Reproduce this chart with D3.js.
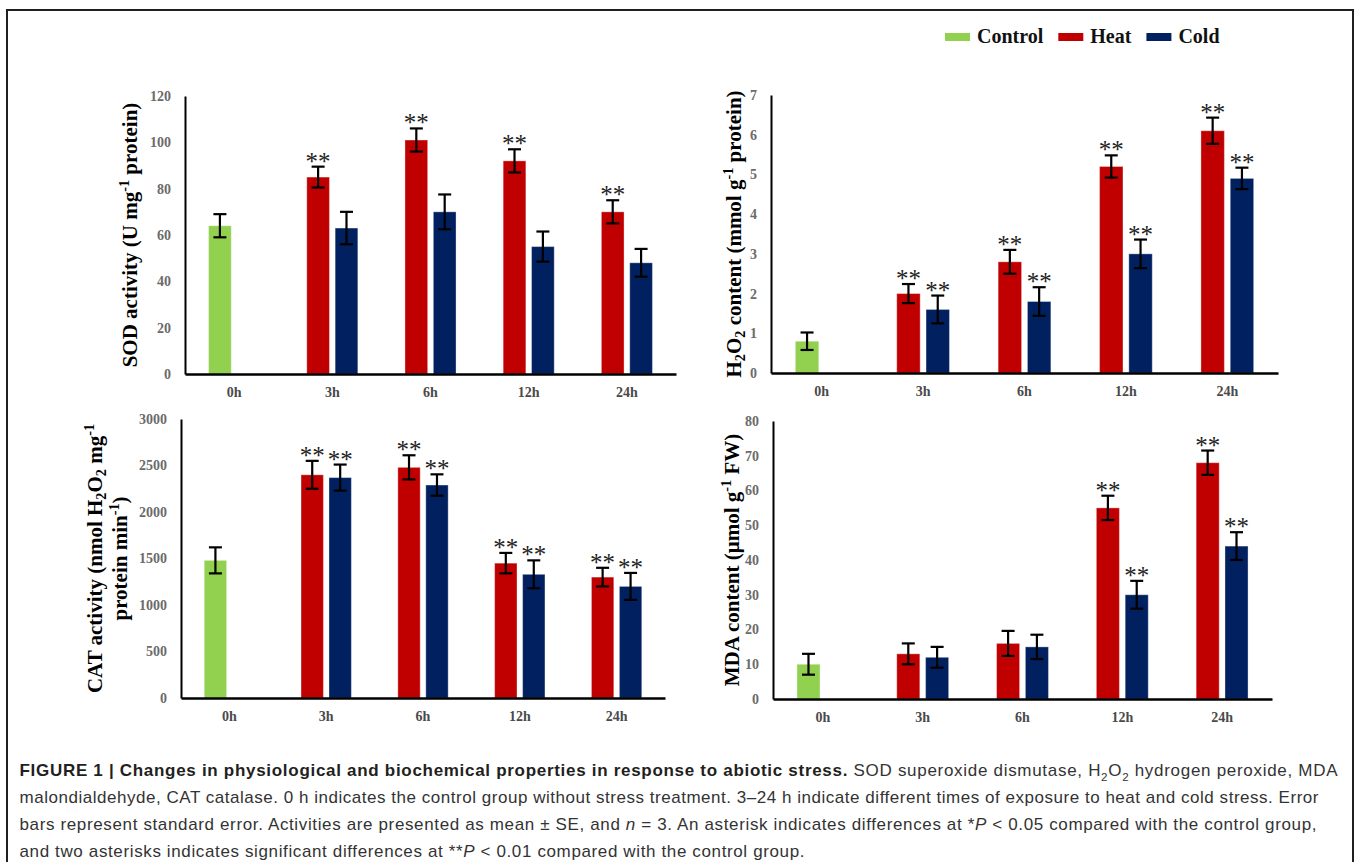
<!DOCTYPE html>
<html>
<head>
<meta charset="utf-8">
<script src="https://cdn.jsdelivr.net/npm/d3@7"></script>
<style>
  body { margin: 0; background: #fff; }
  svg { display: block; }
</style>
</head>
<body>
<div id="chart"></div>
<script>
const times = ["0h", "3h", "6h", "12h", "24h"];
const stressTimes = ["3h", "6h", "12h", "24h"];
const seriesNames = ["Control", "Heat", "Cold"];
const seriesColors = ["#92d050", "#c00000", "#002060"];

// SOD activity (U mg-1 protein)
const sodControl = [64, 5]; // mean, SE at 0h
const sodHeat = [85, 101, 92, 70];
const sodHeatSE = [4.5, 5, 5, 5];
const sodCold = [63, 70, 55, 48];
const sodColdSE = [7, 7.5, 6.5, 6];
const sodHeatSig = ["**", "**", "**", "**"];
const sodColdSig = ["", "", "", ""];
const sodTicks = [0, 20, 40, 60, 80, 100, 120];

// H2O2 content (mmol g-1 protein)
const h2o2Control = [0.8, 0.22];
const h2o2Heat = [2.0, 2.8, 5.2, 6.1];
const h2o2HeatSE = [0.24, 0.3, 0.28, 0.33];
const h2o2Cold = [1.6, 1.8, 3.0, 4.9];
const h2o2ColdSE = [0.35, 0.36, 0.36, 0.27];
const h2o2HeatSig = ["**", "**", "**", "**"];
const h2o2ColdSig = ["**", "**", "**", "**"];
const h2o2Ticks = [0, 1, 2, 3, 4, 5, 6, 7];

// CAT activity (nmol H2O2 mg-1 protein min-1)
const catControl = [1480, 140];
const catHeat = [2400, 2480, 1450, 1300];
const catHeatSE = [150, 130, 110, 100];
const catCold = [2370, 2290, 1330, 1200];
const catColdSE = [140, 115, 150, 145];
const catHeatSig = ["**", "**", "**", "**"];
const catColdSig = ["**", "**", "**", "**"];
const catTicks = [0, 500, 1000, 1500, 2000, 2500, 3000];

// MDA content (umol g-1 FW)
const mdaControl = [10, 3];
const mdaHeat = [13, 16, 55, 68];
const mdaHeatSE = [3, 3.6, 3.5, 3.5];
const mdaCold = [12, 15, 30, 44];
const mdaColdSE = [3, 3.5, 4, 4];
const mdaHeatSig = ["", "", "**", "**"];
const mdaColdSig = ["", "", "**", "**"];
const mdaTicks = [0, 10, 20, 30, 40, 50, 60, 70, 80];

const width = 1357, height = 862;
const serif = "'Liberation Serif', 'Times New Roman', serif";
const sans = "'Liberation Sans', Arial, Helvetica, sans-serif";

const svg = d3.select("#chart")
  .append("svg")
  .attr("width", width)
  .attr("height", height);

// figure frame
svg.append("rect")
  .attr("x", 7).attr("y", 10)
  .attr("width", 1346).attr("height", 880)
  .attr("fill", "none")
  .attr("stroke", "#231f20")
  .attr("stroke-width", 2);

// writes text pieces (bold / italic / sub / sup) into a text element
function richText(sel, parts, size, subShift = 0.28) {
  let shift = 0;
  parts.forEach(([txt, kind]) => {
    const t = sel.append("tspan").text(txt);
    let target = 0;
    if (kind === "sub") { target = size * subShift; t.attr("font-size", size * 0.68); }
    if (kind === "sup") { target = -size * 0.38; t.attr("font-size", size * 0.68); }
    if (kind === "b") t.attr("font-weight", "bold");
    if (kind === "i") t.attr("font-style", "italic");
    if (target !== shift) { t.attr("dy", target - shift); shift = target; }
  });
}

const panels = [
  { left: 185, right: 676, top: 96, bottom: 374, max: 120, ticks: sodTicks,
    control: sodControl, heat: sodHeat, heatSE: sodHeatSE, cold: sodCold, coldSE: sodColdSE,
    heatSig: sodHeatSig, coldSig: sodColdSig,
    titles: [{ x: 137, parts: [["SOD activity (U mg"], ["-1", "sup"], [" protein)"]] }] },
  { left: 771, right: 1278, top: 95, bottom: 373, max: 7, ticks: h2o2Ticks,
    control: h2o2Control, heat: h2o2Heat, heatSE: h2o2HeatSE, cold: h2o2Cold, coldSE: h2o2ColdSE,
    heatSig: h2o2HeatSig, coldSig: h2o2ColdSig,
    titles: [{ x: 741, parts: [["H"], ["2", "sub"], ["O"], ["2", "sub"], [" content (mmol g"], ["-1", "sup"], [" protein)"]] }] },
  { left: 181, right: 665, top: 419, bottom: 698, max: 3000, ticks: catTicks,
    control: catControl, heat: catHeat, heatSE: catHeatSE, cold: catCold, coldSE: catColdSE,
    heatSig: catHeatSig, coldSig: catColdSig,
    titles: [
      { x: 102, parts: [["CAT activity (nmol H"], ["2", "sub"], ["O"], ["2", "sub"], [" mg"], ["-1", "sup"]] },
      { x: 127, parts: [["protein min"], ["-1", "sup"], [")"]] }
    ] },
  { left: 773, right: 1272, top: 421, bottom: 699, max: 80, ticks: mdaTicks,
    control: mdaControl, heat: mdaHeat, heatSE: mdaHeatSE, cold: mdaCold, coldSE: mdaColdSE,
    heatSig: mdaHeatSig, coldSig: mdaColdSig,
    titles: [{ x: 739, parts: [["MDA content (\u03bcmol g"], ["-1", "sup"], [" FW)"]] }] }
];

function drawPanel(p) {
  const x = d3.scaleBand(times, [p.left, p.right]).paddingInner(0.48).paddingOuter(0.24);
  const slot = d3.scaleBand([0, 1], [0, x.bandwidth()]).paddingInner(0.2);
  const y = d3.scaleLinear([0, p.max], [p.bottom, p.top]);

  const bars = [{ t: "0h", s: 0, v: p.control[0], se: p.control[1], c: 0, sig: "" }];
  stressTimes.forEach((t, i) => {
    bars.push({ t, s: 0, v: p.heat[i], se: p.heatSE[i], c: 1, sig: p.heatSig[i] });
    bars.push({ t, s: 1, v: p.cold[i], se: p.coldSE[i], c: 2, sig: p.coldSig[i] });
  });

  const g = svg.append("g");
  const cx = d => x(d.t) + slot(d.s) + slot.bandwidth() / 2;

  g.append("g")
    .selectAll("rect")
    .data(bars)
    .join("rect")
    .attr("x", d => x(d.t) + slot(d.s))
    .attr("y", d => y(d.v))
    .attr("width", slot.bandwidth())
    .attr("height", d => y(0) - y(d.v))
    .attr("fill", d => seriesColors[d.c])
    .attr("stroke", "#ffffff")
    .attr("stroke-opacity", 0.35)
    .attr("stroke-width", 1);

  // error bars
  const err = g.append("g")
    .attr("stroke", "#000")
    .attr("stroke-width", 2.2)
    .selectAll("g")
    .data(bars)
    .join("g");
  err.append("line")
    .attr("x1", cx).attr("x2", cx)
    .attr("y1", d => y(d.v - d.se)).attr("y2", d => y(d.v + d.se));
  err.append("line")
    .attr("x1", d => cx(d) - 6.5).attr("x2", d => cx(d) + 6.5)
    .attr("y1", d => y(d.v + d.se)).attr("y2", d => y(d.v + d.se));
  err.append("line")
    .attr("x1", d => cx(d) - 6.5).attr("x2", d => cx(d) + 6.5)
    .attr("y1", d => y(d.v - d.se)).attr("y2", d => y(d.v - d.se));

  g.append("g")
    .selectAll("text")
    .data(bars.filter(d => d.sig))
    .join("text")
    .attr("x", cx)
    .attr("y", d => y(d.v + d.se) + 3)
    .attr("text-anchor", "middle")
    .attr("font-family", serif)
    .attr("font-size", 25)
    .attr("fill", "#222")
    .text(d => d.sig);

  // axes
  const yAxis = g.append("g")
    .attr("transform", `translate(${p.left},0)`)
    .call(d3.axisLeft(y).tickValues(p.ticks).tickFormat(d3.format("d")).tickSize(0).tickPadding(14));
  yAxis.select(".domain").attr("stroke", "#000").attr("stroke-width", 2);
  yAxis.selectAll("text")
    .attr("font-family", serif)
    .attr("font-size", 14)
    .attr("font-weight", "bold")
    .attr("fill", "#6b6b6b");

  const xAxis = g.append("g")
    .attr("transform", `translate(0,${p.bottom})`)
    .call(d3.axisBottom(x).tickSize(0).tickPadding(13));
  xAxis.select(".domain").attr("stroke", "#000").attr("stroke-width", 2.4);
  xAxis.selectAll("text")
    .attr("font-family", serif)
    .attr("font-size", 14)
    .attr("font-weight", "bold")
    .attr("fill", "#4a4a4a");

  const cy = (p.top + p.bottom) / 2;
  p.titles.forEach(tl => {
    const t = g.append("text")
      .attr("transform", `translate(${tl.x},${cy}) rotate(-90)`)
      .attr("text-anchor", "middle")
      .attr("font-family", serif)
      .attr("font-size", 21)
      .attr("font-weight", "bold")
      .attr("fill", "#000");
    richText(t, tl.parts, 21, 0.2);
  });
}

panels.forEach(drawPanel);

// legend
const legend = svg.append("g")
  .attr("font-family", serif)
  .attr("font-size", 20)
  .attr("font-weight", "bold");
let lx = 945;
seriesNames.forEach((name, i) => {
  legend.append("rect")
    .attr("x", lx).attr("y", 33)
    .attr("width", 25).attr("height", 8)
    .attr("fill", seriesColors[i]);
  const t = legend.append("text")
    .attr("x", lx + 32).attr("y", 43)
    .attr("fill", "#111")
    .text(name);
  lx += 32 + t.node().getComputedTextLength() + 15;
});

// caption
const captionLines = [
  { w: 1318, parts: [["FIGURE 1 | Changes in physiological and biochemical properties in response to abiotic stress.", "b"],
    [" SOD superoxide dismutase, H"], ["2", "sub"], ["O"], ["2", "sub"], [" hydrogen peroxide, MDA"]] },
  { w: 1299, parts: [["malondialdehyde, CAT catalase. 0 h indicates the control group without stress treatment. 3\u201324 h indicate different times of exposure to heat and cold stress. Error"]] },
  { w: 1297, parts: [["bars represent standard error. Activities are presented as mean \u00b1 SE, and "], ["n", "i"],
    [" = 3. An asterisk indicates differences at *"], ["P", "i"], [" < 0.05 compared with the control group,"]] },
  { w: 785, parts: [["and two asterisks indicates significant differences at **"], ["P", "i"], [" < 0.01 compared with the control group."]] }
];
captionLines.forEach((ln, i) => {
  const t = svg.append("text")
    .attr("x", 19.5)
    .attr("y", 776 + i * 27)
    .attr("font-family", sans)
    .attr("font-size", 17)
    .attr("fill", "#333");
  richText(t, ln.parts, 17);
  t.selectAll("tspan[font-weight='bold']").attr("fill", "#231f20");
  if (ln.w) t.attr("textLength", ln.w).attr("lengthAdjust", "spacing");
});
</script>
</body>
</html>
